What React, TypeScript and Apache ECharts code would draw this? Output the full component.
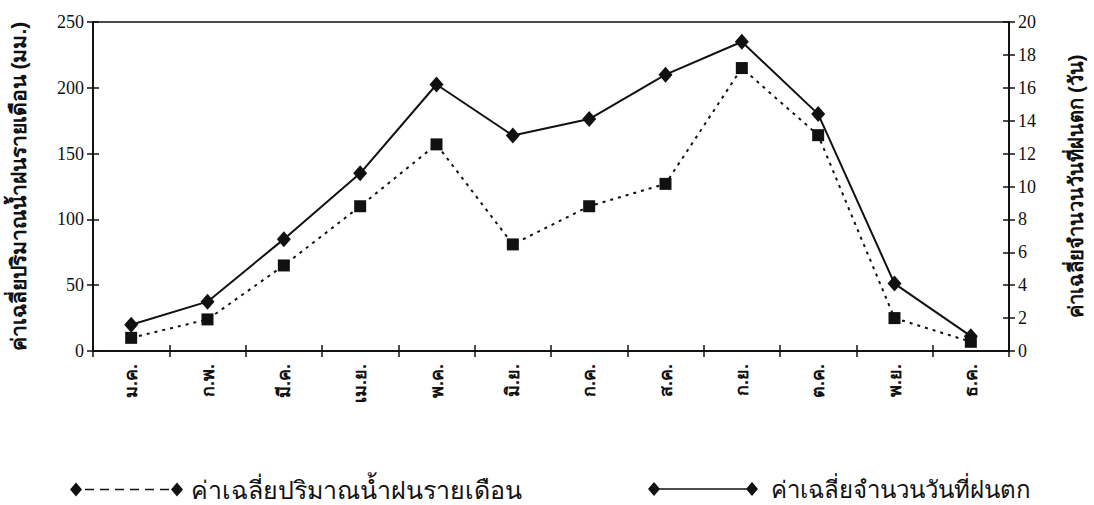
import React, { useEffect, useRef } from "react";
import * as echarts from "echarts";

const months = ["ม.ค.", "ก.พ.", "มี.ค.", "เม.ย.", "พ.ค.", "มิ.ย.", "ก.ค.", "ส.ค.", "ก.ย.", "ต.ค.", "พ.ย.", "ธ.ค."];
const rainfall = [10, 24, 65, 110, 157, 81, 110, 127, 215, 164, 25, 7];
const rainyDays = [1.6, 3.0, 6.8, 10.8, 16.2, 13.1, 14.1, 16.8, 18.8, 14.4, 4.1, 0.9];
const rainName = "ค่าเฉลี่ยปริมาณน้ำฝนรายเดือน";
const daysName = "ค่าเฉลี่ยจำนวนวันที่ฝนตก";
const leftAxisName = "ค่าเฉลี่ยปริมาณน้ำฝนรายเดือน (มม.)";
const rightAxisName = "ค่าเฉลี่ยจำนวนวันที่ฝนตก (วัน)";

const dashedIcon =
  "path://M0 7 L6 0 L12 7 L6 14 Z M101 7 L107 0 L113 7 L107 14 Z" +
  " M15 6.2 L24 6.2 L24 7.8 L15 7.8 Z M30 6.2 L39 6.2 L39 7.8 L30 7.8 Z M45 6.2 L54 6.2 L54 7.8 L45 7.8 Z" +
  " M60 6.2 L69 6.2 L69 7.8 L60 7.8 Z M75 6.2 L84 6.2 L84 7.8 L75 7.8 Z M90 6.2 L99 6.2 L99 7.8 L90 7.8 Z";
const solidIcon =
  "path://M0 7 L6 0 L12 7 L6 14 Z M98 7 L104 0 L110 7 L104 14 Z M11 6.2 L99 6.2 L99 7.8 L11 7.8 Z";

const serif = "'Liberation Serif', 'Times New Roman', serif";
const black = "#111";

export default function App() {
  const ref = useRef<HTMLDivElement>(null);
  useEffect(() => {
    if (!ref.current) return;
    const chart = echarts.init(ref.current, null, { renderer: "svg" });
    const axisLine = { show: true, lineStyle: { color: black, width: 1.5 } };
    const tick = (inside: boolean) => ({ show: true, inside, length: 6, lineStyle: { color: black, width: 1.5 } });
    const yLeft = { type: "value", position: "left", min: 0, max: 250, interval: 50, axisLine, splitLine: { show: false } };
    const yRight = { type: "value", position: "right", min: 0, max: 20, interval: 2, axisLine, splitLine: { show: false } };
    const nameStyle = (size: number) => ({ color: black, fontSize: size, fontWeight: "bold", fontFamily: "sans-serif" });
    chart.setOption({
      animation: false,
      backgroundColor: "#fff",
      grid: { left: 89, right: 68, top: 22, bottom: 154, show: true, borderColor: black, borderWidth: 1.5 },
      legend: [
        {
          data: [{ name: rainName, icon: dashedIcon }],
          left: 65, top: 472, itemWidth: 113, itemHeight: 14, itemGap: 10,
          textStyle: { color: black, fontSize: 25, fontFamily: "sans-serif", padding: [0, 0, 0, 3] },
        },
        {
          data: [{ name: daysName, icon: solidIcon }],
          left: 643, top: 472, itemWidth: 110, itemHeight: 14, itemGap: 10,
          textStyle: { color: black, fontSize: 24, fontFamily: "sans-serif", padding: [0, 0, 0, 8] },
        },
      ],
      xAxis: [
        {
          type: "category", data: months, boundaryGap: true, axisLine,
          axisTick: tick(false),
          axisLabel: { rotate: 90, color: black, fontSize: 18, fontWeight: "bold", margin: 13, fontFamily: "sans-serif" },
        },
        {
          type: "category", data: months, boundaryGap: true, position: "bottom", axisLine,
          axisTick: tick(true),
          axisLabel: { show: false },
        },
      ],
      yAxis: [
        {
          ...yLeft,
          axisTick: tick(false),
          axisLabel: { color: black, fontSize: 18, fontFamily: serif, margin: 9 },
          name: leftAxisName, nameLocation: "middle", nameRotate: 90, nameGap: 64,
          nameTextStyle: nameStyle(21),
        },
        { ...yLeft, axisTick: tick(true), axisLabel: { show: false } },
        {
          ...yRight,
          axisTick: tick(false),
          axisLabel: { color: black, fontSize: 18, fontFamily: serif, margin: 9 },
          name: rightAxisName, nameLocation: "middle", nameRotate: 90, nameGap: 57,
          nameTextStyle: nameStyle(20),
        },
        { ...yRight, axisTick: tick(true), axisLabel: { show: false } },
      ],
      series: [
        {
          name: rainName, type: "line", data: rainfall, xAxisIndex: 0, yAxisIndex: 0,
          symbol: "rect", symbolSize: 12,
          lineStyle: { color: black, width: 2, type: [3, 5] },
          itemStyle: { color: black },
        },
        {
          name: daysName, type: "line", data: rainyDays, xAxisIndex: 0, yAxisIndex: 2,
          symbol: "diamond", symbolSize: [14, 16],
          lineStyle: { color: black, width: 2, type: "solid" },
          itemStyle: { color: black },
        },
      ],
    });
    return () => chart.dispose();
  }, []);
  return <div ref={ref} style={{ width: 1094, height: 505, position: "absolute", left: 0, top: 0 }} />;
}
